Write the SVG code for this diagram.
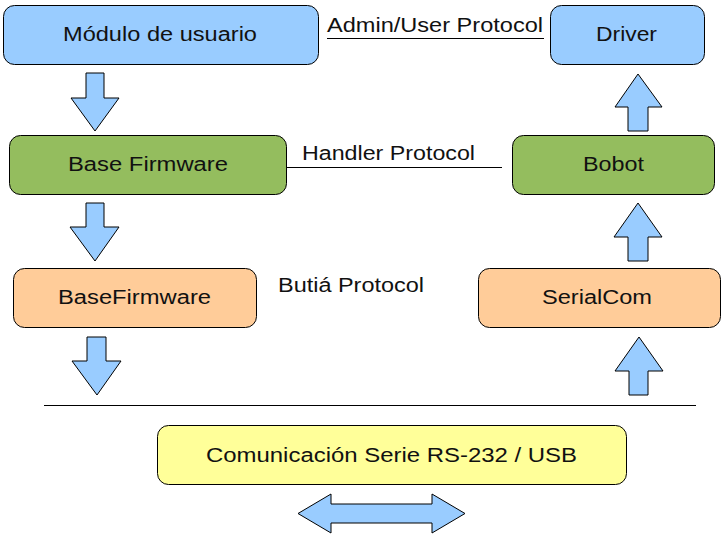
<svg xmlns="http://www.w3.org/2000/svg" width="725" height="537" viewBox="0 0 725 537">
<style>
.box{stroke:#000;stroke-width:1}
.blue{fill:#99ccff}
.green{fill:#94bd5e}
.orange{fill:#ffcc99}
.yellow{fill:#ffff99}
.t{font-family:"Liberation Sans",Arial,sans-serif;font-size:20px;fill:#111}
.c{text-anchor:middle}
.arr{fill:#99ccff;stroke:#000;stroke-width:1}
.ln{stroke:#000;stroke-width:1;fill:none}
</style>
<rect width="725" height="537" fill="#fff"/>
<g id="connectors">
<line class="ln" x1="327" y1="38.5" x2="544" y2="38.5"/>
<line class="ln" x1="286" y1="167.5" x2="502" y2="167.5"/>
<line class="ln" x1="44" y1="405.5" x2="696" y2="405.5"/>
<polygon class="arr" points="86,73 104,73 104,98 119,98 95,131 71,98 86,98"/>
<polygon class="arr" points="86,203 104,203 104,227 119,227 95,261 70,227 86,227"/>
<polygon class="arr" points="87,337 106,337 106,361 121,361 97,395 72,361 87,361"/>
<polygon class="arr" points="628,131 648,131 648,107 662,107 638,74 615,107 628,107"/>
<polygon class="arr" points="628,261 648,261 648,237 662,237 638,203 614,237 628,237"/>
<polygon class="arr" points="629,395 648,395 648,371 663,371 639,337 615,371 629,371"/>
<polygon class="arr" points="298,513.5 331,494 331,504 432,504 432,494 465,513.5 432,533 432,523 331,523 331,533"/>
<text class="t" x="327" y="32" textLength="216" lengthAdjust="spacingAndGlyphs">Admin/User Protocol</text>
<text class="t" x="302" y="160" textLength="173" lengthAdjust="spacingAndGlyphs">Handler Protocol</text>
<text class="t" x="278" y="292" textLength="146" lengthAdjust="spacingAndGlyphs">Butiá Protocol</text>
</g>
<g id="modulo">
<rect class="box blue" x="3.5" y="5.5" width="315" height="59" rx="11"/>
<text class="t c" x="160" y="41" textLength="194" lengthAdjust="spacingAndGlyphs">Módulo de usuario</text>
</g>
<g id="driver">
<rect class="box blue" x="550.5" y="5.5" width="154" height="59" rx="11"/>
<text class="t c" x="626.5" y="41" textLength="61" lengthAdjust="spacingAndGlyphs">Driver</text>
</g>
<g id="base-firmware">
<rect class="box green" x="9.5" y="135.5" width="277" height="59" rx="11"/>
<text class="t c" x="148" y="171" textLength="160" lengthAdjust="spacingAndGlyphs">Base Firmware</text>
</g>
<g id="bobot">
<rect class="box green" x="512.5" y="135.5" width="202" height="59" rx="11"/>
<text class="t c" x="613.5" y="171" textLength="61" lengthAdjust="spacingAndGlyphs">Bobot</text>
</g>
<g id="basefirmware">
<rect class="box orange" x="13.5" y="268.5" width="243" height="59" rx="11"/>
<text class="t c" x="134.5" y="304" textLength="153" lengthAdjust="spacingAndGlyphs">BaseFirmware</text>
</g>
<g id="serialcom">
<rect class="box orange" x="478.5" y="268.5" width="242" height="59" rx="11"/>
<text class="t c" x="597" y="304" textLength="110" lengthAdjust="spacingAndGlyphs">SerialCom</text>
</g>
<g id="comunicacion">
<rect class="box yellow" x="157.5" y="425.5" width="469" height="59" rx="11"/>
<text class="t c" x="391.5" y="462" textLength="371" lengthAdjust="spacingAndGlyphs">Comunicación Serie RS-232 / USB</text>
</g>
</svg>
